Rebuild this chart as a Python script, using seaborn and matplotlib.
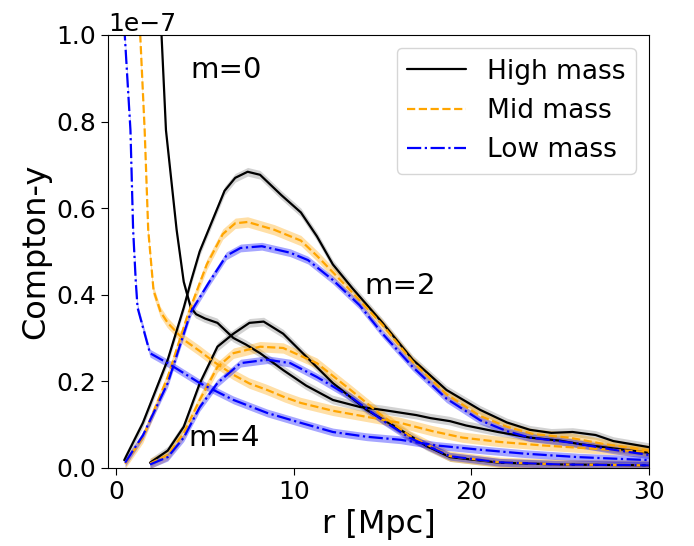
import numpy as np
import pandas as pd
import seaborn as sns
import matplotlib
matplotlib.use("Agg")
import matplotlib.pyplot as plt

# values in units of 1e-7
high_m0_r = [2.0, 2.55, 2.8, 3.4, 3.8, 4.2, 4.5, 5.0, 5.7, 6.6, 7.3, 8.1, 9.4, 10.7, 12.2, 13.7,
             15.0, 16.9, 17.7, 18.8, 19.7, 21.5, 23.3, 25.0, 26.1, 28.0, 30.0]
high_m0_y = [1.6, 1.0, 0.78, 0.55, 0.43, 0.37, 0.355, 0.345, 0.335, 0.30, 0.285, 0.265, 0.226, 0.19,
             0.157, 0.141, 0.134, 0.122, 0.115, 0.108, 0.098, 0.083, 0.07, 0.063, 0.055, 0.045, 0.035]
mid_m0_r = [1.0, 1.35, 1.6, 1.8, 2.1, 2.5, 2.9, 3.8, 4.7, 5.5, 6.6, 7.5, 8.5, 9.5, 10.4, 12.2,
            14.1, 16.0, 17.8, 19.5, 21.6, 24.0, 27.0, 30.0]
mid_m0_y = [1.5, 1.0, 0.78, 0.55, 0.41, 0.36, 0.335, 0.296, 0.27, 0.245, 0.215, 0.195, 0.18, 0.163,
            0.15, 0.132, 0.118, 0.104, 0.085, 0.07, 0.06, 0.052, 0.044, 0.037]
low_m0_r = [0.45, 0.8, 0.95, 1.1, 1.2, 1.9, 2.9, 4.7, 6.6, 8.5, 10.4, 12.2, 14.1, 16.0, 18.0,
            20.5, 23.0, 26.0, 30.0]
low_m0_y = [1.02, 0.78, 0.55, 0.43, 0.37, 0.265, 0.242, 0.196, 0.157, 0.127, 0.104, 0.083, 0.072,
            0.065, 0.052, 0.042, 0.033, 0.025, 0.018]

high_m2_r = [0.45, 1.5, 2.9, 3.8, 4.2, 4.7, 5.2, 6.1, 6.7, 7.4, 8.1, 9.3, 10.4, 11.3, 12.2, 13.3,
             15.0, 16.7, 18.6, 20.5, 22.0, 23.3, 24.5, 25.7, 27.0, 28.0, 30.0]
high_m2_y = [0.018, 0.104, 0.25, 0.37, 0.43, 0.5, 0.55, 0.64, 0.67, 0.684, 0.677, 0.63, 0.59,
             0.535, 0.47, 0.415, 0.335, 0.25, 0.18, 0.134, 0.105, 0.088, 0.081, 0.083, 0.076,
             0.062, 0.048]
mid_m2_r = [0.5, 1.5, 2.9, 4.0, 5.1, 6.0, 6.7, 7.4, 8.9, 10.4, 11.3, 12.2, 13.3, 15.0, 16.7, 18.6,
            20.5, 22.0, 23.5, 25.5, 27.5, 30.0]
mid_m2_y = [0.01, 0.07, 0.21, 0.35, 0.47, 0.54, 0.565, 0.568, 0.55, 0.525, 0.49, 0.452, 0.405,
            0.33, 0.245, 0.17, 0.12, 0.095, 0.078, 0.07, 0.055, 0.04]
low_m2_r = [0.5, 1.5, 2.9, 4.2, 5.2, 6.2, 7.0, 8.2, 9.8, 10.8, 12.2, 13.7, 15.0, 16.7, 18.6, 20.5,
            22.0, 23.3, 25.7, 28.0, 30.0]
low_m2_y = [0.012, 0.075, 0.196, 0.36, 0.427, 0.49, 0.508, 0.512, 0.497, 0.48, 0.434, 0.376, 0.31,
            0.233, 0.16, 0.11, 0.085, 0.07, 0.058, 0.042, 0.03]

high_m4_r = [1.9, 2.9, 3.8, 4.7, 5.7, 6.6, 7.5, 8.3, 9.4, 10.7, 12.2, 14.1, 16.0, 17.5, 18.8,
             21.6, 25.0, 30.0]
high_m4_y = [0.012, 0.04, 0.095, 0.195, 0.28, 0.31, 0.335, 0.338, 0.31, 0.257, 0.196, 0.134, 0.088,
             0.05, 0.025, 0.012, 0.008, 0.006]
mid_m4_r = [1.9, 2.9, 3.8, 4.7, 5.7, 6.6, 8.1, 9.4, 11.3, 13.2, 15.0, 16.5, 18.8, 21.6, 25.0, 30.0]
mid_m4_y = [0.01, 0.03, 0.08, 0.157, 0.233, 0.265, 0.28, 0.277, 0.242, 0.18, 0.12, 0.075, 0.027,
            0.013, 0.008, 0.006]
low_m4_r = [1.9, 2.9, 3.8, 4.7, 5.7, 7.0, 8.5, 9.8, 11.3, 13.2, 15.0, 16.5, 18.8, 21.6, 25.0, 30.0]
low_m4_y = [0.008, 0.025, 0.07, 0.14, 0.196, 0.242, 0.25, 0.242, 0.21, 0.164, 0.11, 0.07, 0.027,
            0.013, 0.008, 0.006]

# half width of the shaded band, per mass bin
band_half = {"High mass": 0.010, "Mid mass": 0.012, "Low mass": 0.009}

curves = {
    "High mass": [(high_m0_r, high_m0_y), (high_m2_r, high_m2_y), (high_m4_r, high_m4_y)],
    "Mid mass": [(mid_m0_r, mid_m0_y), (mid_m2_r, mid_m2_y), (mid_m4_r, mid_m4_y)],
    "Low mass": [(low_m0_r, low_m0_y), (low_m2_r, low_m2_y), (low_m4_r, low_m4_y)],
}
line_color = {"High mass": "black", "Mid mass": "orange", "Low mass": "blue"}
band_color = {"High mass": "grey", "Mid mass": "orange", "Low mass": "blue"}
line_style = {"High mass": "-", "Mid mass": "--", "Low mass": "-."}

scale = 1e-7

sns.set_style("ticks")
plt.rcParams["font.family"] = ["DejaVu Sans"]
plt.rcParams["axes.edgecolor"] = "black"
plt.rcParams["xtick.color"] = "black"
plt.rcParams["ytick.color"] = "black"
plt.rcParams["text.color"] = "black"
plt.rcParams["axes.labelcolor"] = "black"

fig, ax = plt.subplots(figsize=(6.94, 5.46), dpi=100)
fig.subplots_adjust(left=0.156, right=0.935, bottom=0.143, top=0.936)

for mass, parts in curves.items():
    for i, (r, y) in enumerate(parts):
        df = pd.DataFrame({"r": r, "y": np.array(y) * scale})
        w = band_half[mass] * scale
        ax.fill_between(df["r"], df["y"] - w, df["y"] + w, color=band_color[mass],
                        alpha=0.35, lw=0)
        sns.lineplot(x="r", y="y", data=df, ax=ax, color=line_color[mass],
                     linestyle=line_style[mass], lw=1.6,
                     label=mass if i == 0 else None)

ax.text(4.2, 0.92 * scale, "m=0", fontsize=21, va="center", ha="left")
ax.text(14.0, 0.42 * scale, "m=2", fontsize=21, va="center", ha="left")
ax.text(4.05, 0.07 * scale, "m=4", fontsize=21, va="center", ha="left")

ax.set_xlim(-0.45, 30)
ax.set_ylim(0, 1.0 * scale)
ax.set_xticks([0, 10, 20, 30])
ax.set_yticks(np.arange(0, 1.01, 0.2) * scale)
ax.tick_params(labelsize=18, length=5)
ax.yaxis.get_offset_text().set_fontsize(18)
ax.set_xlabel("r [Mpc]", fontsize=23)
ax.set_ylabel("Compton-y", fontsize=23)
ax.legend(loc="upper right", fontsize=19, handlelength=2.2)

plt.savefig("out.png", dpi=100)
